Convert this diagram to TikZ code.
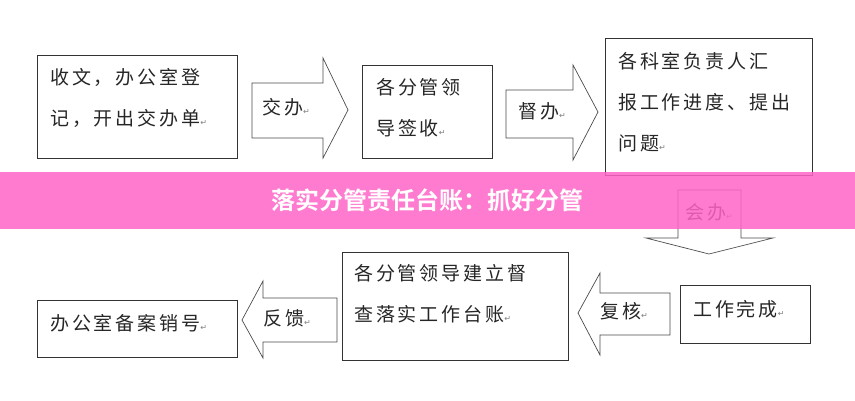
\documentclass[tikz,border=0pt]{standalone}
\usepackage{fontspec}
\newfontfamily\cjk[LetterSpace=15]{Noto Sans CJK SC}
\newfontfamily\cjkb{Noto Sans CJK SC Bold}
\newfontfamily\dejavu{DejaVu Sans}
\begin{document}
\begin{tikzpicture}[x=1pt,y=-1pt,
  box/.style={draw=black!80,line width=0.8pt,fill=white},
  arr/.style={draw=black!70,line width=0.7pt,fill=white},
  txt/.style={font=\cjk\fontsize{19}{41}\selectfont,align=left,anchor=north west,inner sep=0pt,text=black!85}]
\useasboundingbox (0,0) rectangle (855,400);
\fill[white] (0,0) rectangle (855,400);
\newcommand\rt{{\dejavu\fontsize{8}{8}\selectfont\color{gray}↵}}
% boxes
\draw[box] (37,55) rectangle (237,158);
\node[txt] (t1) at (50,68) {收文，办公室登\\记，开出交办单\rt};
\draw[box] (362,65) rectangle (492,158);
\node[txt] (t3) at (376,78) {各分管领\\导签收\rt};
\draw[box] (605,38) rectangle (812,175);
\node[txt] (t5) at (618,52) {各科室负责人汇\\报工作进度、提出\\问题\rt};
\draw[box] (680,285) rectangle (810,343);
\node[txt] (t7) at (693,300) {工作完成\rt};
\draw[box] (342,252) rectangle (568,360);
\node[txt] (t9) at (354,264) {各分管领导建立督\\查落实工作台账\rt};
\draw[box] (37,300) rectangle (237,357);
\node[txt] (t11) at (50,314) {办公室备案销号\rt};
% right arrows
\draw[arr] (252,83) -- (323,83) -- (323,58) -- (348,110) -- (323,158) -- (323,138) -- (252,138) -- cycle;
\node[txt] (a1) at (262,98) {交办\rt};
\draw[arr] (506,90) -- (573,90) -- (573,65) -- (598,112) -- (573,160) -- (573,138) -- (506,138) -- cycle;
\node[txt] (a2) at (518,102) {督办\rt};
% left arrows
\draw[arr] (670,293) -- (600,293) -- (600,273) -- (578,313) -- (600,355) -- (600,335) -- (670,335) -- cycle;
\node[txt] (a3) at (600,302) {复核\rt};
\draw[arr] (337,298) -- (263,298) -- (263,281) -- (242,320) -- (263,358) -- (263,342) -- (337,342) -- cycle;
\node[txt] (a4) at (263,309) {反馈\rt};
% down arrow
\draw[arr] (678,190) -- (741,190) -- (741,238) -- (773,238) -- (709,254) -- (646,238) -- (678,238) -- cycle;
\node[txt] (a5) at (685,203) {会办\rt};
% banner
\fill[fill={rgb,255:red,255;green,100;blue,200},fill opacity=0.85] (0,172) rectangle (855,229);
\node[font=\cjkb\fontsize{24}{24}\selectfont,text=white] (banner) at (427,200) {落实分管责任台账：抓好分管};
\end{tikzpicture}
\end{document}
